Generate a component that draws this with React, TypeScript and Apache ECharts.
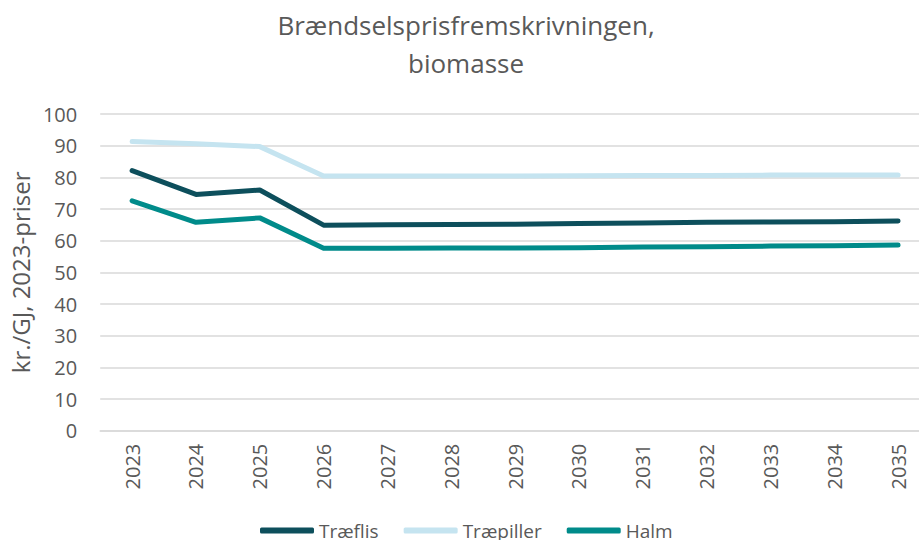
import React, { useEffect, useRef } from "react";
import * as echarts from "echarts";

const years = ["2023", "2024", "2025", "2026", "2027", "2028", "2029", "2030", "2031", "2032", "2033", "2034", "2035"];
const traeflis = [82.1, 74.6, 76.0, 64.9, 65.0, 65.1, 65.2, 65.4, 65.6, 65.8, 65.9, 66.0, 66.2];
const traepiller = [91.3, 90.6, 89.7, 80.4, 80.4, 80.4, 80.4, 80.5, 80.6, 80.6, 80.7, 80.7, 80.7];
const halm = [72.6, 65.8, 67.2, 57.6, 57.6, 57.7, 57.7, 57.8, 58.0, 58.1, 58.3, 58.4, 58.6];

const FONT = "'Open Sans', sans-serif";
const GREY = "#595959";

export default function App() {
  const ref = useRef<HTMLDivElement>(null);
  useEffect(() => {
    if (!ref.current) return;
    const chart = echarts.init(ref.current, undefined, { renderer: "svg" });
    const mk = (name: string, data: number[], color: string) => ({
      name,
      type: "line",
      data,
      symbol: "none",
      showSymbol: false,
      lineStyle: { color, width: 5, cap: "round", join: "round" },
      itemStyle: { color },
    });
    chart.setOption({
      animation: false,
      textStyle: { fontFamily: FONT },
      title: {
        text: "Brændselsprisfremskrivningen,\nbiomasse",
        left: 461,
        top: 1,
        textAlign: "center",
        textStyle: { fontFamily: FONT, fontSize: 26, fontWeight: "normal", color: GREY, lineHeight: 38 },
      },
      legend: {
        data: ["Træflis", "Træpiller", "Halm"],
        top: 516,
        left: 255,
        icon: "roundRect",
        itemWidth: 54,
        itemHeight: 6,
        itemGap: 25,
        textStyle: { fontFamily: FONT, fontSize: 19, color: GREY },
      },
      grid: { left: 100, top: 114, width: 830, height: 316.7, containLabel: false },
      xAxis: {
        type: "category",
        data: years,
        boundaryGap: true,
        axisLine: { lineStyle: { color: "#d9d9d9", width: 1.5 } },
        axisTick: { show: false },
        axisLabel: { rotate: 90, fontSize: 20, color: GREY, margin: 13, fontFamily: FONT },
      },
      yAxis: {
        type: "value",
        min: 0,
        max: 100,
        interval: 10,
        name: "kr./GJ, 2023-priser",
        nameLocation: "middle",
        nameGap: 68,
        nameTextStyle: { fontSize: 24, color: GREY, fontFamily: FONT },
        axisLine: { show: false },
        axisTick: { show: false },
        axisLabel: { fontSize: 20, color: GREY, margin: 23, fontFamily: FONT },
        splitLine: { lineStyle: { color: "#d9d9d9", width: 1.5 } },
      },
      series: [
        mk("Træflis", traeflis, "#0d4f5c"),
        mk("Træpiller", traepiller, "#c5e4f0"),
        mk("Halm", halm, "#008b8a"),
      ],
    });
    return () => chart.dispose();
  }, []);
  return (
    <div style={{ width: 919, height: 540, position: "absolute", left: 0, top: 0, overflow: "hidden", background: "#fff" }}>
      <div ref={ref} style={{ width: 930, height: 540 }} />
    </div>
  );
}
